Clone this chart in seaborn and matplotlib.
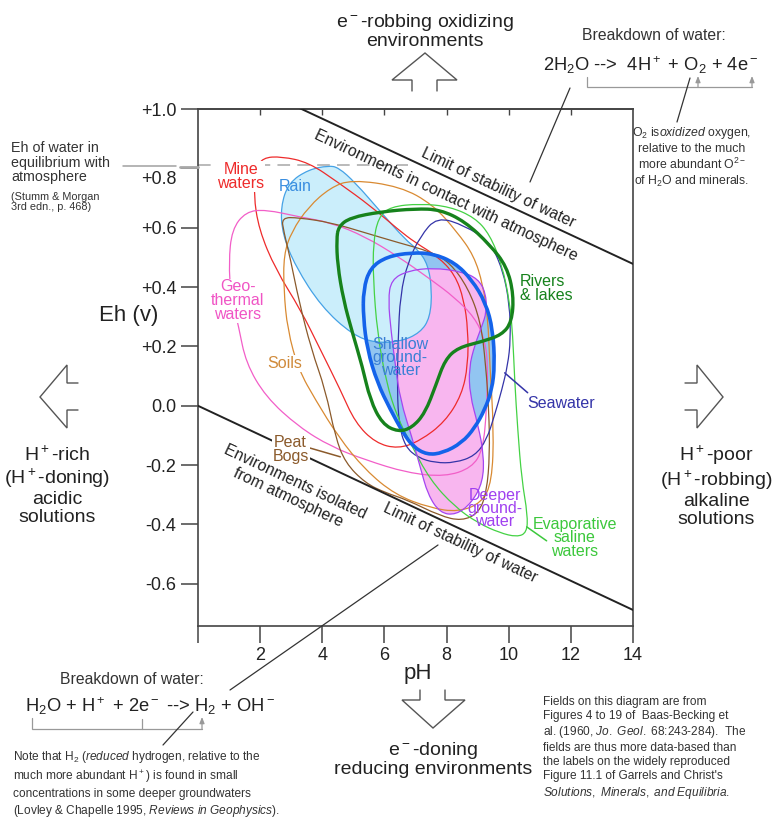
import numpy as np
import pandas as pd
import matplotlib
matplotlib.use("Agg")
import matplotlib.pyplot as plt
import seaborn as sns
from matplotlib.path import Path
from matplotlib.patches import PathPatch

# field outlines (pH, Eh in volts)
rain_ph = [2.66, 2.92, 3.56, 4.20, 4.52, 5.06, 5.90, 6.67, 7.08, 7.40, 7.53, 7.47, 7.15, 6.51, 5.71, 4.97, 3.97, 3.14, 2.72]
rain_eh = [0.671, 0.752, 0.796, 0.809, 0.803, 0.752, 0.651, 0.560, 0.526, 0.476, 0.391, 0.297, 0.246, 0.216, 0.212, 0.239, 0.334, 0.469, 0.577]

mine_ph = [2.08, 2.69, 3.56, 4.52, 5.58, 6.44, 6.99, 7.72, 8.27, 8.56, 8.69, 8.69, 8.49, 7.95, 7.15, 6.44, 5.71, 5.06, 4.58, 3.94, 3.30, 2.50, 1.96, 1.79, 1.86]
mine_eh = [0.836, 0.840, 0.820, 0.752, 0.671, 0.594, 0.550, 0.503, 0.442, 0.357, 0.256, 0.138, 0.037, -0.054, -0.118, -0.145, -0.125, -0.057, 0.054, 0.189, 0.324, 0.459, 0.594, 0.712, 0.796]

geo_ph = [0.99, 1.09, 1.54, 2.18, 3.24, 4.29, 5.38, 6.44, 7.50, 8.27, 8.91, 9.23, 9.33, 9.29, 9.17, 8.81, 7.95, 6.73, 5.38, 4.29, 3.24, 2.18, 1.54, 1.31, 1.06]
geo_eh = [0.482, 0.594, 0.654, 0.661, 0.637, 0.617, 0.570, 0.503, 0.425, 0.364, 0.297, 0.223, 0.138, -0.013, -0.148, -0.209, -0.239, -0.226, -0.182, -0.138, -0.071, 0.030, 0.145, 0.266, 0.374]

soils_ph = [4.94, 6.51, 7.56, 8.33, 8.88, 9.17, 9.33, 9.39, 9.52, 9.46, 9.13, 8.37, 7.47, 6.35, 5.38, 4.52, 3.78, 3.24, 2.88, 2.76, 2.76, 3.01, 3.56, 4.26]
soils_eh = [0.762, 0.739, 0.678, 0.587, 0.506, 0.408, 0.297, 0.138, -0.081, -0.256, -0.327, -0.358, -0.344, -0.300, -0.216, -0.105, 0.020, 0.121, 0.256, 0.391, 0.509, 0.587, 0.671, 0.735]

peat_ph = [2.69, 3.24, 4.29, 5.38, 6.44, 7.50, 8.11, 8.69, 9.10, 9.26, 9.36, 9.39, 9.29, 9.04, 8.49, 7.79, 6.73, 6.03, 5.38, 4.74, 4.42, 4.10, 3.65, 3.24, 2.98, 2.76]
peat_eh = [0.634, 0.634, 0.617, 0.583, 0.550, 0.519, 0.482, 0.398, 0.283, 0.138, -0.013, -0.165, -0.290, -0.361, -0.388, -0.371, -0.317, -0.293, -0.260, -0.192, -0.105, 0.054, 0.189, 0.357, 0.492, 0.587]

rivers_ph = [4.52, 4.90, 5.90, 6.99, 7.79, 8.59, 9.39, 9.94, 10.16, 10.10, 9.78, 9.13, 8.37, 7.95, 7.66, 7.31, 6.89, 6.44, 5.93, 5.54, 5.29, 4.97, 4.68, 4.49, 4.46]
rivers_eh = [0.604, 0.634, 0.654, 0.664, 0.661, 0.621, 0.543, 0.469, 0.374, 0.283, 0.239, 0.216, 0.196, 0.155, 0.071, -0.024, -0.074, -0.088, -0.061, 0.020, 0.132, 0.246, 0.357, 0.476, 0.560]

shallow_ph = [5.32, 5.54, 6.09, 6.86, 7.56, 8.27, 8.81, 9.26, 9.49, 9.55, 9.46, 9.23, 8.91, 8.49, 7.88, 7.37, 6.92, 6.60, 6.19, 5.77, 5.45, 5.32]
shallow_eh = [0.391, 0.465, 0.503, 0.516, 0.513, 0.482, 0.425, 0.347, 0.256, 0.138, 0.054, -0.013, -0.074, -0.125, -0.159, -0.165, -0.138, -0.091, -0.013, 0.078, 0.189, 0.297]

deeper_ph = [6.12, 6.22, 6.76, 7.56, 8.49, 9.01, 9.26, 9.29, 9.13, 8.91, 8.72, 8.75, 9.01, 9.20, 9.17, 8.81, 8.30, 7.79, 7.40, 7.15, 6.89, 6.51, 6.35, 6.22]
deeper_eh = [0.357, 0.425, 0.455, 0.465, 0.452, 0.428, 0.381, 0.317, 0.266, 0.206, 0.128, 0.037, -0.064, -0.165, -0.256, -0.327, -0.368, -0.361, -0.300, -0.206, -0.108, 0.020, 0.138, 0.246]

sea_ph = [7.69, 8.59, 9.39, 9.81, 10.03, 10.06, 9.97, 9.78, 9.55, 9.29, 8.91, 8.27, 7.63, 7.08, 6.67, 6.47, 6.41, 6.44, 6.51, 6.76, 7.15]
sea_eh = [0.637, 0.607, 0.553, 0.459, 0.341, 0.223, 0.138, 0.054, -0.030, -0.115, -0.169, -0.192, -0.192, -0.175, -0.138, -0.064, 0.054, 0.223, 0.374, 0.486, 0.570]

evap_ph = [5.80, 6.19, 7.15, 8.11, 8.91, 9.39, 9.78, 10.03, 10.13, 10.19, 10.29, 10.42, 10.61, 10.58, 10.26, 9.71, 9.01, 8.27, 7.47, 6.83, 6.41, 6.06, 5.77, 5.64, 5.64]
evap_eh = [0.634, 0.671, 0.681, 0.671, 0.634, 0.577, 0.476, 0.351, 0.239, 0.088, -0.081, -0.250, -0.368, -0.428, -0.442, -0.428, -0.395, -0.341, -0.250, -0.125, -0.037, 0.078, 0.246, 0.425, 0.550]

# water stability limits and atmosphere-equilibrium Eh
limit_ph = [0, 14]
upper_limit_eh = [1.163, 0.478]
lower_limit_eh = [0.0, -0.688]
atm_eh = 0.81
atm_ph_end = 6.75

ph_ticks = [0, 2, 4, 6, 8, 10, 12, 14]
ph_ticklabels = ['', '2', '4', '6', '8', '10', '12', '14']
eh_ticks = [1.0, 0.8, 0.6, 0.4, 0.2, 0.0, -0.2, -0.4, -0.6]
eh_ticklabels = ['+1.0', '+0.8', '+0.6', '+0.4', '+0.2', '0.0', '-0.2', '-0.4', '-0.6']

sns.set_theme(style='white')
plt.rcParams['font.family'] = ['Liberation Sans', 'DejaVu Sans']
plt.rcParams['mathtext.fontset'] = 'custom'
plt.rcParams['mathtext.rm'] = 'Liberation Sans'
plt.rcParams['mathtext.it'] = 'Liberation Sans:italic'
plt.rcParams['mathtext.bf'] = 'Liberation Sans:bold'


def closed_curve(ph, eh):
    # smooth closed outline: quadratic bezier segments between edge midpoints
    pts = np.column_stack([ph, eh])
    mids = (pts + np.roll(pts, -1, axis=0)) / 2
    verts = [mids[-1]]
    codes = [Path.MOVETO]
    for p, m in zip(pts, mids):
        verts += [p, m]
        codes += [Path.CURVE3, Path.CURVE3]
    return Path(verts, codes)


fig = plt.figure(figsize=(7.8, 8.19), dpi=100)
fig.patch.set_facecolor('white')
ax = fig.add_axes([198 / 780, 1 - 626 / 819, 435 / 780, 517 / 819])
ax.set_facecolor('white')

# fills
ax.add_patch(PathPatch(closed_curve(shallow_ph, shallow_eh), fc='#92c5f1', ec='none', zorder=1))
ax.add_patch(PathPatch(closed_curve(deeper_ph, deeper_eh), fc='#f8b6ef', ec='none', zorder=2))
ax.add_patch(PathPatch(closed_curve(rain_ph, rain_eh), fc='#cbeefb', ec='none', zorder=3))

outlines = [
    (rain_ph, rain_eh, '#45a2e6', 0.9),
    (mine_ph, mine_eh, '#ee2b2b', 0.9),
    (geo_ph, geo_eh, '#f25ec8', 0.9),
    (soils_ph, soils_eh, '#d98a32', 0.9),
    (peat_ph, peat_eh, '#8b5a2b', 0.9),
    (sea_ph, sea_eh, '#3434a8', 0.9),
    (evap_ph, evap_eh, '#44d244', 0.9),
    (deeper_ph, deeper_eh, '#a545f0', 0.9),
    (shallow_ph, shallow_eh, '#1463ea', 2.6),
    (rivers_ph, rivers_eh, '#16821c', 2.4),
]
for i, (ph, eh, col, lw) in enumerate(outlines):
    ax.add_patch(PathPatch(closed_curve(ph, eh), fc='none', ec=col, lw=lw, zorder=4 + i * 0.1))

# water stability limits
limits = pd.DataFrame({
    'pH': limit_ph * 2,
    'Eh': upper_limit_eh + lower_limit_eh,
    'limit': ['upper'] * 2 + ['lower'] * 2,
})
sns.lineplot(data=limits, x='pH', y='Eh', units='limit', estimator=None,
             color='#222222', linewidth=1.4, ax=ax, zorder=6)
ax.plot([0, atm_ph_end], [atm_eh, atm_eh], color='#b4b4b4', lw=1.3,
        ls=(0, (7, 4)), zorder=0.5)

ax.set_xlim(0, 14)
ax.set_ylim(-0.742, 1.0)
ax.set_xlabel('')
ax.set_ylabel('')
ax.set_xticks(ph_ticks)
ax.set_xticklabels(ph_ticklabels)
ax.set_yticks(eh_ticks)
# the +0.8 label sits a little lower, under the atmosphere leader line
ax.set_yticklabels([t if t != '+0.8' else '' for t in eh_ticklabels])
ax.tick_params(axis='x', bottom=True, direction='out', length=12, width=1.1,
               color='#444444', pad=3, labelsize=13, labelcolor='#222222')
ax.tick_params(axis='y', left=True, direction='out', length=12.5, width=1.1,
               color='#444444', pad=3, labelsize=13, labelcolor='#222222')
for s in ax.spines.values():
    s.set_color('#444444')
    s.set_linewidth(1.2)
top = ax.secondary_xaxis('top')
top.set_xticks(ph_ticks[1:-1], labels=[''] * 6)
top.tick_params(axis='x', top=True, direction='in', length=4.5, width=1, color='#444444')
top.spines['top'].set_color('#444444')

# text along the water limits
p = ax.transData.transform([(limit_ph[0], lower_limit_eh[0]), (limit_ph[1], lower_limit_eh[1])])
ang = np.degrees(np.arctan2(p[1, 1] - p[0, 1], p[1, 0] - p[0, 0]))
line_txt = dict(rotation=ang, rotation_mode='anchor', ha='center', va='center',
                fontsize=11.3, color='#222222', zorder=7)
ax.text(9.65, 0.735, 'Limit of stability of water', **line_txt)
ax.text(7.98, 0.708, 'Environments in contact with atmosphere', **line_txt)
ax.text(8.43, -0.462, 'Limit of stability of water', **line_txt)
ax.text(3.01, -0.283, 'Environments isolated\nfrom atmosphere', linespacing=1.15, **line_txt)

# field labels
wb = dict(fc='white', ec='none', pad=0.6)
lab = dict(ha='center', va='center', fontsize=11.5, zorder=8)
ax.text(1.38, 0.772, 'Mine\nwaters', color='#ee2b2b', linespacing=0.9, bbox=wb, **lab)
ax.text(3.14, 0.739, 'Rain', color='#3a8ee0', **lab)
ax.text(1.28, 0.354, 'Geo-\nthermal\nwaters', color='#f055c5', linespacing=0.9, bbox=wb, **lab)
ax.text(2.79, 0.142, 'Soils', color='#d08a3a', bbox=wb, **lab)
ax.text(2.98, -0.148, 'Peat\nBogs', color='#8b5a2b', linespacing=0.9, bbox=wb, **lab)
ax.plot([3.46, 4.58], [-0.138, -0.172], color='#8b5a2b', lw=1.1, zorder=7)
ax.text(10.35, 0.395, 'Rivers\n& lakes', color='#16821c', linespacing=0.9,
        ha='left', va='center', fontsize=11.5, zorder=8)
ax.text(6.51, 0.162, 'Shallow\nground-\nwater', color='#3a7fd5', linespacing=0.85, **lab)
ax.text(11.67, 0.007, 'Seawater', color='#3434a8', **lab)
ax.plot([9.87, 10.61], [0.111, 0.044], color='#3434a8', lw=1.1, zorder=7)
ax.text(9.55, -0.347, 'Deeper\nground-\nwater', color='#a040f0', linespacing=0.85, **lab)
ax.text(12.12, -0.445, 'Evaporative\nsaline\nwaters', color='#3cc83c', linespacing=0.85, **lab)
ax.plot([10.58, 11.22], [-0.408, -0.455], color='#3cc83c', lw=1.1, zorder=7)

# overlay in pixel coordinates for the surrounding annotations
ov = fig.add_axes([0, 0, 1, 1], zorder=10, facecolor='none')
ov.set_xlim(0, 780)
ov.set_ylim(819, 0)
ov.axis('off')


def poly(pts, **kw):
    xs, ys = zip(*pts)
    ov.plot(xs, ys, solid_joinstyle='miter', **kw)


ov.text(177, 179, '+0.8', ha='right', va='center', fontsize=13, color='#222222')

arrow_kw = dict(color='#555555', lw=1.0)
poly([(412, 91), (412, 80), (392, 80), (425, 53), (457, 80), (437, 80), (437, 91)], **arrow_kw)
poly([(420, 690), (420, 700), (402, 700), (433, 728), (465, 700), (445, 700), (445, 690)], **arrow_kw)
poly([(78, 383), (67, 383), (67, 365), (40, 397), (67, 428), (67, 410), (78, 410)], **arrow_kw)
poly([(685, 383), (697, 383), (697, 365), (723, 397), (697, 428), (697, 410), (685, 410)], **arrow_kw)

big = dict(ha='center', va='center', fontsize=14, color='#222222')
ov.text(425, 31, 'e$^-$-robbing oxidizing\nenvironments', linespacing=1.05, **big)
ov.text(433, 759, 'e$^-$-doning\nreducing environments', linespacing=1.05, **big)
ov.text(57, 486, 'H$^+$-rich\n(H$^+$-doning)\nacidic\nsolutions', linespacing=1.1, **big)
ov.text(716, 486, 'H$^+$-poor\n(H$^+$-robbing)\nalkaline\nsolutions', linespacing=1.1, **big)
ov.text(418, 673, 'pH', ha='center', va='center', fontsize=16, color='#222222')
ov.text(129, 316, 'Eh (v)', ha='center', va='center', fontsize=16, color='#222222')

# atmosphere note
ov.text(11, 141, 'Eh of water in\nequilibrium with\natmosphere', ha='left', va='top',
        fontsize=10.3, linespacing=1.05, color='#333333')
ov.text(11, 192, '(Stumm & Morgan\n3rd edn., p. 468)', ha='left', va='top',
        fontsize=7.8, linespacing=1.0, color='#333333')
ov.plot([123, 176], [166, 166], color='#a0a0a0', lw=1.1)
ov.plot([180, 198], [167, 167], color='#a8a8a8', lw=2.0)

# oxidation half reaction
ov.text(654, 36, 'Breakdown of water:', ha='center', va='center', fontsize=11.3, color='#333333')
ov.text(543, 65, r'2H$_2$O -->  4H$^+$ + O$_2$ + 4e$^-$', ha='left', va='center',
        fontsize=13.2, color='#222222')
grey = dict(color='#999999', lw=0.9)
poly([(587, 77), (587, 87), (752, 87)], **grey)
for xa in (698, 752):
    ov.annotate('', xy=(xa, 76), xytext=(xa, 87),
                arrowprops=dict(arrowstyle='-|>,head_length=0.3,head_width=0.12',
                                color='#999999', lw=0.9, shrinkA=0, shrinkB=0))
ov.plot([690, 677], [78, 122], color='#333333', lw=0.9)
ov.plot([570, 530], [88, 182], color='#333333', lw=0.9)
ov.text(692, 157, r'O$_2$ is$\mathit{oxidized}$ oxygen,' + '\nrelative to the much\n'
        r'more abundant O$^{2-}$' + '\n' + r'of H$_2$O and minerals.',
        ha='center', va='center', fontsize=8.8, linespacing=1.15, color='#333333')

# reduction half reaction
ov.text(132, 679, 'Breakdown of water:', ha='center', va='center', fontsize=11.3, color='#333333')
ov.text(25, 706, r'H$_2$O + H$^+$ + 2e$^-$ --> H$_2$ + OH$^-$', ha='left', va='center',
        fontsize=13.2, color='#222222')
poly([(32, 718), (32, 729), (202, 729)], **grey)
ov.plot([142, 142], [729, 719], **grey)
ov.annotate('', xy=(202, 717), xytext=(202, 729),
            arrowprops=dict(arrowstyle='-|>,head_length=0.3,head_width=0.12',
                            color='#999999', lw=0.9, shrinkA=0, shrinkB=0))
ov.plot([193, 163], [712, 745], color='#333333', lw=0.9)
ov.plot([438, 230], [545, 690], color='#333333', lw=0.9)
ov.text(13, 749,
        r'Note that H$_2$ ($\mathit{reduced}$ hydrogen, relative to the' + '\n'
        r'much more abundant H$^+$) is found in small' + '\n'
        'concentrations in some deeper groundwaters\n'
        r'(Lovley & Chapelle 1995, $\mathit{Reviews\ in\ Geophysics}$).',
        ha='left', va='top', fontsize=8.6, linespacing=1.3, color='#333333')

ov.text(543, 696,
        'Fields on this diagram are from\n'
        'Figures 4 to 19 of  Baas-Becking et\n'
        r'al. (1960, $\mathit{Jo.\ Geol.}$ 68:243-284).  The' + '\n'
        'fields are thus more data-based than\n'
        'the labels on the widely reproduced\n'
        "Figure 11.1 of Garrels and Christ's\n"
        r'$\mathit{Solutions,\ Minerals,\ and\ Equilibria}$.',
        ha='left', va='top', fontsize=8.6, linespacing=1.22, color='#333333')

fig.savefig('out.png', dpi=100, facecolor='white')
